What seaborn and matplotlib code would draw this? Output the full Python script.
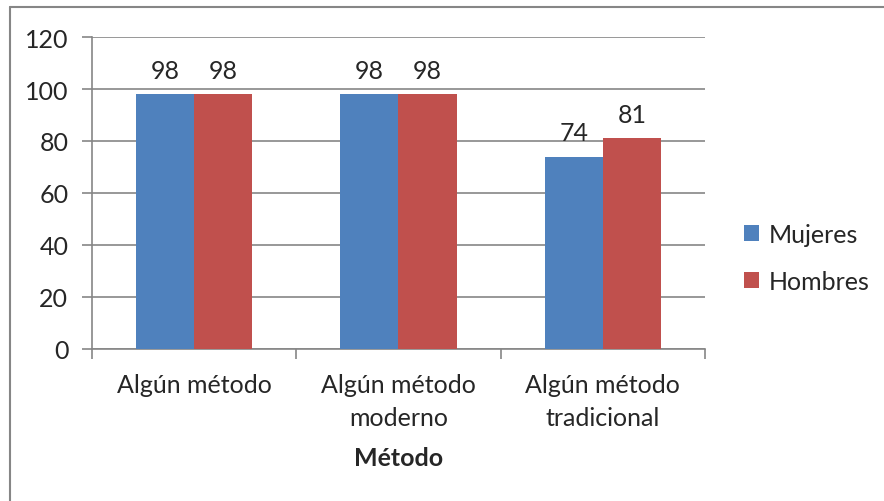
import matplotlib
matplotlib.use("Agg")
import matplotlib.pyplot as plt
from matplotlib.lines import Line2D
import pandas as pd
import seaborn as sns

categorias = ["Algún método", "Algún método\nmoderno", "Algún método\ntradicional"]
mujeres = [98, 98, 74]
hombres = [98, 98, 81]
series = ["Mujeres", "Hombres"]
colores = ["#4F81BD", "#C0504D"]

df = pd.DataFrame({
    "categoria": categorias * 2,
    "valor": mujeres + hombres,
    "sexo": [series[0]] * len(categorias) + [series[1]] * len(categorias),
})

sns.set_style("white")
plt.rcParams["font.family"] = ["Lato", "DejaVu Sans"]
grid_col = "#868686"
fs = 18

fig = plt.figure(figsize=(8.84, 5.02), dpi=100)
ax = fig.add_axes([0.104, 0.3028, 0.6935, 0.6215])

sns.barplot(data=df, x="categoria", y="valor", hue="sexo", palette=colores,
            width=0.57, gap=0, linewidth=0, saturation=1, ax=ax, zorder=3)

for cont in ax.containers:
    ax.bar_label(cont, fmt="%d", padding=9, fontsize=fs)

ax.set_ylim(0, 120)
ax.set_yticks(range(0, 121, 20))
ax.set_xlim(-0.5, 2.5)
ax.yaxis.grid(True, color=grid_col, linewidth=1.2, zorder=0)
ax.set_axisbelow(True)
for s in ["top", "right"]:
    ax.spines[s].set_visible(False)
for s in ["left", "bottom"]:
    ax.spines[s].set_color(grid_col)
    ax.spines[s].set_linewidth(1.2)

ax.tick_params(axis="y", length=7, width=1.2, color=grid_col, labelsize=fs, pad=10, left=True)
ax.tick_params(axis="x", which="major", length=0, labelsize=fs, pad=17)
ax.set_xticks([-0.5, 0.5, 1.5, 2.5], minor=True)
ax.tick_params(axis="x", which="minor", length=7, width=1.2, color=grid_col, bottom=True)
for t in ax.get_xticklabels():
    t.set_linespacing(1.55)

ax.set_xlabel("Método", fontsize=fs, fontweight="bold")
ax.xaxis.set_label_coords(0.5, -0.312)
ax.set_ylabel("")

ax.legend(loc="center left", bbox_to_anchor=(744 / 884, 1 - 259 / 502),
          bbox_transform=fig.transFigure, frameon=False, fontsize=fs,
          handlelength=0.6, handleheight=0.6, handletextpad=0.4, labelspacing=0.97,
          borderpad=0, borderaxespad=0)

fig.add_artist(Line2D([10 / 884, 10 / 884], [0, 1 - 8 / 502], color=grid_col, linewidth=1.5))
fig.add_artist(Line2D([10 / 884, 1], [1 - 8 / 502, 1 - 8 / 502], color=grid_col, linewidth=1.5))

fig.savefig("out.png", dpi=100)
